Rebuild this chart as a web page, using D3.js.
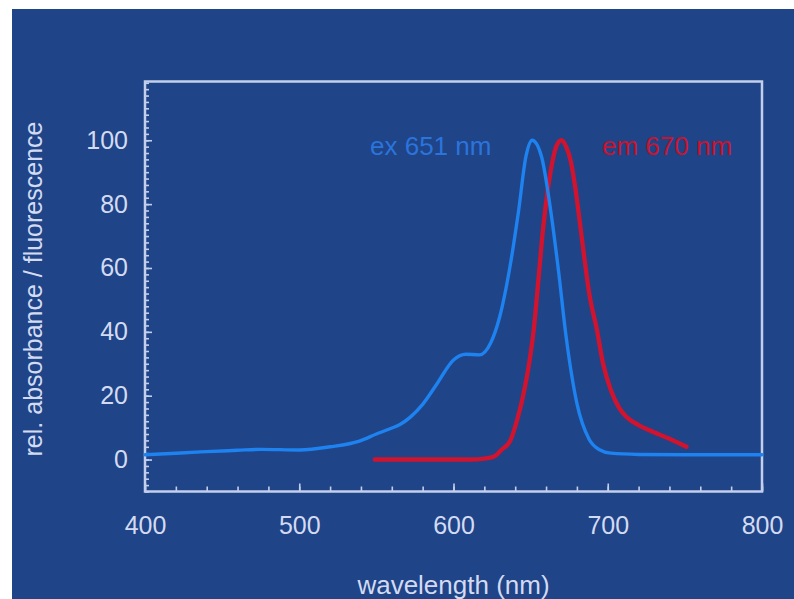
<!DOCTYPE html>
<html>
<head>
<meta charset="utf-8">
<script src="https://cdn.jsdelivr.net/npm/d3@7"></script>
<style>
  html, body { margin: 0; padding: 0; background: #ffffff; }
  svg { display: block; font-family: "Liberation Sans", Arial, sans-serif; }
</style>
</head>
<body>
<div id="chart"></div>
<script>

// excitation (absorbance) spectrum
var exWavelength = [400, 420, 436, 460, 475, 500, 520, 539, 550, 558, 565, 572, 580, 589, 600, 608, 617, 624, 630, 637, 642, 647, 651, 657, 663, 668, 673, 680, 688, 695, 702, 720, 750, 800];
var exValue      = [1.5, 2.0, 2.4, 2.9, 3.2, 3.0, 4.0, 5.8, 8.0, 9.5, 10.9, 13.3, 17.3, 23.5, 31.2, 33.0, 32.8, 36.4, 44.8, 61.5, 77.2, 95.0, 100, 95.0, 78.0, 59.4, 38.5, 17.6, 6.3, 3.0, 2.0, 1.6, 1.5, 1.5];

// emission (fluorescence) spectrum
var emWavelength = [549, 580, 611, 620, 626, 631, 637, 641, 645, 649, 652, 655, 658, 661, 664, 667, 670, 673, 676, 679, 682, 685, 688, 693, 697, 702, 707, 712, 720, 727, 740, 751];
var emValue      = [0, 0, 0, 0.3, 0.9, 3.0, 6.1, 12, 19.7, 30, 40.6, 56, 72, 84, 93, 98.5, 100, 98, 93.5, 85, 74, 62.5, 52, 40.6, 30, 21.8, 16.5, 13.4, 10.8, 9.2, 6.5, 4];

var xMajorTicks = [400, 500, 600, 700, 800];
var yMajorTicks = [0, 20, 40, 60, 80, 100];

var seriesLabels = ["ex 651 nm", "em 670 nm"];
var xTitle = "wavelength (nm)";
var yTitle = "rel. absorbance / fluorescence";

var width = 794, height = 599;
var margin = {top: 81.5, right: 32, bottom: 107.5, left: 145};

var bg = "#1f4487",
    frameColor = "#c4cfec",
    textColor = "#d3dbf2",
    exColor = "#1e82f0",
    emColor = "#d0132e";

var svg = d3.select("#chart").append("svg")
    .attr("width", width)
    .attr("height", height);

svg.append("rect")
    .attr("x", 12).attr("y", 9)
    .attr("width", width - 12).attr("height", height - 9)
    .attr("fill", bg);

var x = d3.scaleLinear()
    .domain([400, 800])
    .range([margin.left, width - margin.right]);

var y = d3.scaleLinear()
    .domain([-10, 118.4])
    .range([height - margin.bottom, margin.top]);

// x axis: minor ticks every 20 nm, pointing into the plot
var xAxisMinor = d3.axisBottom(x)
    .tickValues(d3.range(400, 801, 20))
    .tickSizeInner(-5).tickSizeOuter(0)
    .tickFormat("");

var xAxisMajor = d3.axisBottom(x)
    .tickValues(xMajorTicks)
    .tickSizeInner(-8).tickSizeOuter(0)
    .tickPadding(20);

var yAxisMinor = d3.axisLeft(y)
    .tickValues(d3.range(-10, 119, 2))
    .tickSizeInner(-4).tickSizeOuter(0)
    .tickFormat("");

var yAxisMajor = d3.axisLeft(y)
    .tickValues(yMajorTicks)
    .tickSizeInner(-7).tickSizeOuter(0)
    .tickPadding(17);

function styleAxis(g) {
    g.select(".domain").remove();
    g.selectAll("line").attr("stroke", frameColor).attr("stroke-width", 1.6);
    g.selectAll("text")
        .attr("fill", textColor)
        .attr("font-size", 25)
        .attr("font-family", "Liberation Sans, Arial, sans-serif");
}

var xg = svg.append("g").attr("transform", "translate(0," + y(-10) + ")");
xg.append("g").call(xAxisMinor).call(styleAxis);
xg.append("g").call(xAxisMajor).call(styleAxis);
xg.selectAll("text").attr("dy", "0.9em");

var yg = svg.append("g").attr("transform", "translate(" + x(400) + ",0)");
yg.append("g").call(yAxisMinor).call(styleAxis);
yg.append("g").call(yAxisMajor).call(styleAxis);

// frame
svg.append("rect")
    .attr("x", x(400)).attr("y", y(118.4))
    .attr("width", x(800) - x(400))
    .attr("height", y(-10) - y(118.4))
    .attr("fill", "none")
    .attr("stroke", frameColor)
    .attr("stroke-width", 2.5);

var line = d3.line()
    .x(function(d) { return x(d[0]); })
    .y(function(d) { return y(d[1]); })
    .curve(d3.curveMonotoneX);

var exData = d3.zip(exWavelength, exValue);
var emData = d3.zip(emWavelength, emValue);

svg.append("path")
    .datum(emData)
    .attr("d", line)
    .attr("fill", "none")
    .attr("stroke", emColor)
    .attr("stroke-width", 4.4)
    .attr("stroke-linecap", "round");

svg.append("path")
    .datum(exData)
    .attr("d", line)
    .attr("fill", "none")
    .attr("stroke", exColor)
    .attr("stroke-width", 3.4)
    .attr("stroke-linecap", "round");

// series labels
svg.append("text")
    .attr("x", 370).attr("y", y(95.5))
    .attr("fill", "#2a74dc")
    .attr("font-size", 26)
    .text(seriesLabels[0]);

svg.append("text")
    .attr("x", 602).attr("y", y(95.5))
    .attr("fill", "#c8142f")
    .attr("font-size", 26)
    .text(seriesLabels[1]);

// axis titles
svg.append("text")
    .attr("x", (x(400) + x(800)) / 2)
    .attr("y", 594)
    .attr("text-anchor", "middle")
    .attr("fill", textColor)
    .attr("font-size", 26)
    .text(xTitle);

svg.append("text")
    .attr("transform", "translate(42,289) rotate(-90)")
    .attr("text-anchor", "middle")
    .attr("fill", textColor)
    .attr("font-size", 25)
    .text(yTitle);

</script>
</body>
</html>
